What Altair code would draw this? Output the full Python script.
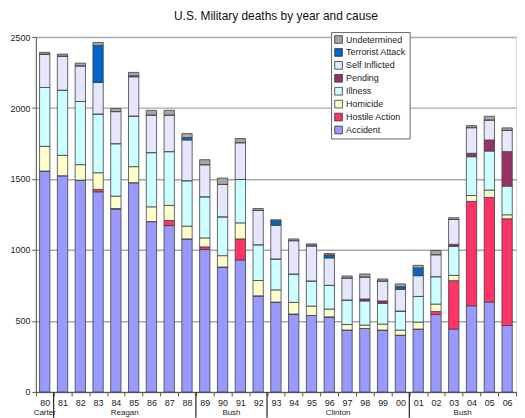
import altair as alt
import pandas as pd

years = ["80","81","82","83","84","85","86","87","88","89","90","91","92",
         "93","94","95","96","97","98","99","00","01","02","03","04","05","06"]

accident   = [1556,1523,1492,1410,1288,1474,1200,1172,1078,1003,880,930,677,
              633,549,539,527,436,447,436,400,443,546,443,607,633,468]
hostile    = [0,0,0,17,4,0,0,36,0,19,0,148,0,
              0,0,0,2,0,0,0,0,0,21,341,735,737,752]
homicide   = [174,144,109,117,87,113,104,106,90,63,80,113,108,
              86,82,66,55,39,24,42,36,49,52,37,42,52,28]
illness    = [415,459,445,414,370,357,382,379,320,290,274,306,252,
              218,200,177,167,173,170,146,134,181,193,205,273,275,202]
pending    = [0,0,0,0,0,0,0,0,0,0,0,0,0,
              0,0,0,0,0,14,17,0,0,0,14,24,78,243]
selfinf    = [235,240,251,222,226,276,265,258,287,226,228,259,242,
              237,235,246,193,155,155,141,153,146,155,175,181,141,150]
terrorist  = [0,0,0,261,0,7,0,0,17,0,0,0,0,
              32,0,5,21,0,0,0,19,55,0,0,0,0,0]
undeterm   = [12,14,19,21,22,24,33,33,28,35,44,29,13,
              7,12,10,10,14,21,14,19,18,29,12,14,26,17]

causes_bottom_up = ["Accident","Hostile Action","Homicide","Illness",
                    "Pending","Self Inflicted","Terrorist Attack","Undetermined"]
series = [accident, hostile, homicide, illness, pending, selfinf, terrorist, undeterm]
colors_bottom_up = ["#9999FF","#FF3366","#FFFFCC","#CCFFFF",
                    "#993366","#E6E6FF","#0066CC","#A6A6A6"]

presidents = ["Carter","Reagan","Bush","Clinton","Bush"]
pres_center_year = ["80","84","90","96","03"]
group_end_years = ["80","88","92","00"]

rows = []
for rank, (cause, vals) in enumerate(zip(causes_bottom_up, series)):
    for y, v in zip(years, vals):
        rows.append({"yr": y, "cause": cause, "deaths": v, "rank": rank})
df = pd.DataFrame(rows)

legend_order = list(reversed(causes_bottom_up))
legend_colors = list(reversed(colors_bottom_up))

W, H = 483, 357
FONT = "Liberation Sans"

xscale = alt.Scale(domain=years, paddingInner=0, paddingOuter=0)

bars = alt.Chart(df).mark_bar(
    width={"band": 0.58}, stroke="#404040", strokeWidth=0.8
).encode(
    x=alt.X("yr:O", scale=xscale, title=None,
            axis=alt.Axis(labelAngle=0, tickBand="extent", labelFontSize=9,
                          labelColor="#222", tickColor="#555", domainColor="#555",
                          tickSize=4, labelPadding=3, labelFont=FONT)),
    y=alt.Y("sum(deaths):Q", stack="zero", title=None,
            scale=alt.Scale(domain=[0, 2500]),
            axis=alt.Axis(values=[0,500,1000,1500,2000,2500], format="d",
                          labelFontSize=9,
                          labelFont=FONT, labelColor="#222", tickSize=4,
                          tickColor="#555", domainColor="#555",
                          gridColor="#A8A8A8", gridWidth=1.5)),
    color=alt.Color("cause:N",
                    scale=alt.Scale(domain=legend_order, range=legend_colors),
                    legend=alt.Legend(title=None, orient="none", legendX=297, legendY=-5,
                                      symbolType="square", symbolSize=60,
                                      symbolStrokeColor="#333", symbolStrokeWidth=0.8,
                                      labelFontSize=9, labelFont=FONT, labelColor="#222",
                                      fillColor="white", strokeColor="#666",
                                      padding=3, rowPadding=2, labelOffset=3)),
    order=alt.Order("rank:Q", sort="ascending"),
)

pres_df = pd.DataFrame({"pres": presidents, "yr": pres_center_year})
carter = alt.Chart(pres_df.iloc[:1]).mark_text(
    fontSize=8, font=FONT, color="#222", baseline="middle"
).encode(
    x=alt.X("yr:O", scale=xscale, bandPosition=0.5),
    y=alt.value(H + 21), text="pres:N")
others = alt.Chart(pres_df.iloc[1:]).mark_text(
    fontSize=8, font=FONT, color="#222", baseline="middle"
).encode(
    x=alt.X("yr:O", scale=xscale, bandPosition=1),
    y=alt.value(H + 21), text="pres:N")

sep_df = pd.DataFrame({"yr": group_end_years})
seps = alt.Chart(sep_df).mark_rule(color="#222", strokeWidth=1.2).encode(
    x=alt.X("yr:O", scale=xscale, bandPosition=1),
    y=alt.value(H), y2=alt.value(H + 26))

chart = alt.layer(bars, seps, carter, others).properties(
    width=W, height=H,
    title=alt.TitleParams("U.S. Military deaths by year and cause", fontSize=12,
                          font=FONT, fontWeight="normal", color="#111", offset=9),
    padding={"left": 1, "top": 0, "right": 0, "bottom": 0},
).configure_view(stroke=None).configure(background="white")

chart.save("out.html", embed_options={"renderer": "svg", "actions": False})
